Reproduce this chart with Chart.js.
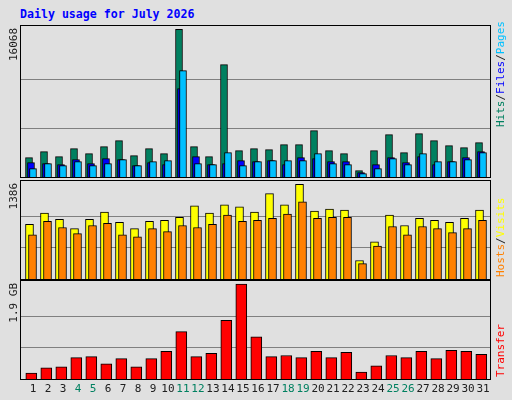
<!DOCTYPE html>
<html>
<head>
<meta charset="utf-8">
<script src="https://cdn.jsdelivr.net/npm/chart.js@4"></script>
<style>
  html, body { margin: 0; padding: 0; background: #e0e0e0; }
  #wrap { position: relative; width: 512px; height: 400px; }
  canvas { position: absolute; left: 0; top: 0; }
  #title { position: absolute; left: 20px; top: 7px; font: bold 11.6px 'DejaVu Sans Mono', monospace; color: #0000ff; }
</style>
</head>
<body>
<div id="wrap">
  <div id="title">Daily usage for July 2026</div>
  <canvas id="c1" width="512" height="400"></canvas>
  <canvas id="c2" width="512" height="400"></canvas>
  <canvas id="c3" width="512" height="400"></canvas>
</div>
<script>
// ---- data ----
const DAYS     = Array.from({ length: 31 }, (_, i) => i + 1);
const WEEKENDS = [4, 5, 11, 12, 18, 19, 25, 26];

const HITS  = [2104, 2757, 2213, 3083, 2539, 3301, 3953, 2321, 3083, 2539, 16068, 3301, 2213, 12223, 2865, 3083,
               2974, 3518, 3518, 5042, 2865, 2539, 689, 2865, 4606, 2648, 4715, 3953, 3409, 3192, 3736];
const FILES = [1560, 1451, 1342, 1886, 1451, 1995, 1886, 1233, 1560, 1342, 9612, 2213, 1342, 1451, 1777, 1668,
               1777, 1342, 2104, 1995, 1668, 1668, 472, 1342, 2104, 1560, 2213, 1342, 1668, 2104, 2757];
const PAGES = [907, 1451, 1233, 1668, 1233, 1451, 1886, 1233, 1668, 1777, 11571, 1451, 1342, 2648, 1233, 1668,
               1777, 1777, 1777, 2539, 1451, 1342, 363, 907, 1995, 1342, 2539, 1668, 1668, 1886, 2648];

const VISITS = [798, 964, 874, 738, 874, 979, 829, 738, 844, 859, 904, 1070, 964, 1085, 1055, 979,
                1250, 1085, 1386, 994, 1024, 1009, 271, 542, 934, 783, 889, 859, 829, 889, 1009];
const HOSTS  = [648, 844, 753, 663, 783, 814, 648, 618, 738, 693, 783, 753, 798, 934, 844, 859,
                889, 949, 1130, 889, 904, 904, 226, 482, 768, 648, 768, 738, 678, 738, 859];

// transfer in GB
const TRANSFER = [0.117, 0.221, 0.242, 0.428, 0.449, 0.304, 0.408, 0.242, 0.408, 0.553, 0.947, 0.449, 0.511, 1.175, 1.9, 0.843,
                  0.449, 0.470, 0.428, 0.553, 0.428, 0.532, 0.138, 0.263, 0.470, 0.428, 0.553, 0.408, 0.573, 0.553, 0.491];

const FONT = "'DejaVu Sans Mono', monospace";

function pts(values, shift) {
  return values.map((v, i) => ({ x: DAYS[i] + shift, y: v }));
}

function barSet(values, shift, color, width) {
  return {
    data: pts(values, shift),
    backgroundColor: color,
    borderColor: '#000000',
    borderWidth: 1,
    borderSkipped: 'bottom',
    barThickness: width,
    grouped: false,
  };
}

// gridlines, frame and the rotated labels of one panel
function panelPlugin(opts) {
  return {
    id: 'panel',
    beforeDatasetsDraw(chart) {
      const { ctx, chartArea: a, scales: { y } } = chart;
      ctx.save();
      ctx.strokeStyle = '#808080';
      ctx.lineWidth = 1;
      [1, 2].forEach(k => {
        const py = Math.round(y.getPixelForValue(opts.max * k / 3)) + 0.5;
        ctx.beginPath(); ctx.moveTo(a.left, py); ctx.lineTo(a.right, py); ctx.stroke();
      });
      ctx.restore();
    },
    afterDraw(chart) {
      const { ctx, chartArea: a } = chart;
      ctx.save();
      ctx.strokeStyle = '#000000';
      ctx.lineWidth = 1;
      ctx.strokeRect(a.left + 0.5, a.top + 0.5, a.right - a.left, a.bottom - a.top);

      // max value on the left
      ctx.font = '11px ' + FONT;
      ctx.fillStyle = '#202020';
      ctx.textBaseline = 'middle';
      ctx.translate(14, a.top + 3);
      ctx.rotate(-Math.PI / 2);
      ctx.textAlign = 'right';
      ctx.fillText(opts.maxLabel, 0, 0);
      ctx.restore();

      // coloured legend on the right
      ctx.save();
      ctx.font = '11px ' + FONT;
      ctx.textBaseline = 'middle';
      ctx.textAlign = 'left';
      ctx.translate(501, opts.legendBottom);
      ctx.rotate(-Math.PI / 2);
      let x = 0;
      opts.legend.forEach(([txt, col]) => {
        ctx.fillStyle = col;
        ctx.fillText(txt, x, 0);
        x += ctx.measureText(txt).width;
      });
      ctx.restore();

      if (opts.dayLabels) {
        const xs = chart.scales.x;
        ctx.save();
        ctx.font = '11px ' + FONT;
        ctx.textAlign = 'center';
        ctx.textBaseline = 'middle';
        DAYS.forEach(d => {
          ctx.fillStyle = WEEKENDS.includes(d) ? '#008060' : '#202020';
          ctx.fillText(String(d), xs.getPixelForValue(d) + 2, 389);
        });
        ctx.restore();
      }
    }
  };
}

function makePanel(id, datasets, max, headroom, padding, plugOpts) {
  new Chart(document.getElementById(id), {
    type: 'bar',
    data: { datasets },
    options: {
      responsive: false,
      animation: false,
      layout: { padding },
      plugins: { legend: { display: false }, tooltip: { enabled: false } },
      scales: {
        x: { type: 'linear', min: 0.267, max: 31.6, offset: false, bounds: 'ticks', display: false },
        y: { min: 0, max: max * headroom, display: false }
      }
    },
    plugins: [panelPlugin(Object.assign({ max }, plugOpts))]
  });
}

const hitsMax = Math.max(...HITS);
makePanel('c1', [
  barSet(PAGES, 0.133, '#00c0ff', 7),
  barSet(FILES, 0, '#0000ff', 7),
  barSet(HITS, -0.133, '#008060', 7),
], hitsMax, 1.029, { top: 25, bottom: 223, left: 20, right: 22 }, {
  maxLabel: String(hitsMax), legendBottom: 127,
  legend: [['Hits', '#008060'], ['/', '#202020'], ['Files', '#0000ff'], ['/', '#202020'], ['Pages', '#00c0ff']]
});

const visitsMax = Math.max(...VISITS);
makePanel('c2', [
  barSet(HOSTS, 0.1, '#ff8000', 8),
  barSet(VISITS, -0.1, '#ffff00', 8),
], visitsMax, 1.045, { top: 180, bottom: 121, left: 20, right: 22 }, {
  maxLabel: String(visitsMax), legendBottom: 277,
  legend: [['Hosts', '#ff8000'], ['/', '#202020'], ['Visits', '#ffff00']]
});

const xferMax = Math.max(...TRANSFER);
makePanel('c3', [
  barSet(TRANSFER, 0.02, '#ff0000', 11),
], xferMax, 1.042, { top: 280, bottom: 21, left: 20, right: 22 }, {
  maxLabel: xferMax + ' GB', legendBottom: 377, dayLabels: true,
  legend: [['Transfer', '#ff0000']]
});
</script>
</body>
</html>
